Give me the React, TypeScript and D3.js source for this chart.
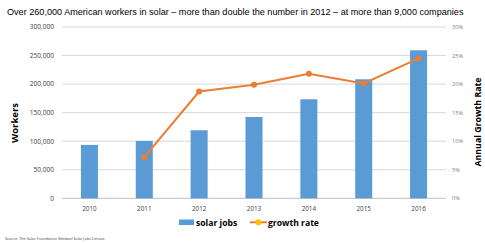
import React from "react";
import * as d3 from "d3";

const years = ["2010", "2011", "2012", "2013", "2014", "2015", "2016"];
const solarJobs = [93500, 100500, 119100, 142400, 173400, 208400, 259200];
const growthRate = [null, 7.2, 18.7, 19.9, 21.8, 20.1, 24.5];
const leftTicks = [0, 50000, 100000, 150000, 200000, 250000, 300000];
const rightTicks = [0, 5, 10, 15, 20, 25, 30];

const W = 485;
const H = 243;
const FONT = "Open Sans, Liberation Sans, sans-serif";
const BLUE = "#5b9bd5";
const ORANGE = "#ed7d31";

export default function App() {
  const x = d3.scaleBand().domain(years).range([62, 446]).paddingInner(0.69).paddingOuter(0.345);
  const yL = d3.scaleLinear().domain([0, 300000]).range([198.3, 27]);
  const yR = d3.scaleLinear().domain([0, 30]).range([198.3, 27]);
  const fmt = d3.format(",");

  const pts = years
    .map((yr, i) => ({ yr, v: growthRate[i] }))
    .filter((d) => d.v !== null) as { yr: string; v: number }[];
  const line = d3
    .line<{ yr: string; v: number }>()
    .x((d) => (x(d.yr) as number) + x.bandwidth() / 2)
    .y((d) => yR(d.v));

  return (
    <svg width={W} height={H} style={{ position: "absolute", left: 0, top: 0 }} fontFamily={FONT}>
      <rect width={W} height={H} fill="#fff" />
      <text x={7} y={15} fontSize={9.1} fill="#000" fontFamily="Liberation Sans Narrow, Liberation Sans, sans-serif">
        Over 260,000 American workers in solar – more than double the number in 2012 – at more than 9,000 companies
      </text>

      {leftTicks.map((t) => (
        <g key={t}>
          <line x1={62} x2={446} y1={yL(t)} y2={yL(t)} stroke={t === 0 ? "#bfbfbf" : "#d9d9d9"} strokeWidth={1} />
          <text x={54} y={yL(t)} dy="0.35em" fontSize={6.6} textAnchor="end" fill="#404040">
            {fmt(t)}
          </text>
        </g>
      ))}
      {rightTicks.map((t) => (
        <text key={t} x={452} y={yR(t)} dy="0.35em" fontSize={5.6} fill="#7f7f7f">
          {t}%
        </text>
      ))}

      <text transform="translate(18,123) rotate(-90)" textAnchor="middle" fontSize={9.5} fontWeight="bold" fill="#000">
        Workers
      </text>
      <text transform="translate(481,122) rotate(-90)" textAnchor="middle" fontSize={8.8} fontWeight="bold" fill="#000">
        Annual Growth Rate
      </text>

      {years.map((yr, i) => (
        <rect
          key={yr}
          x={x(yr)}
          y={yL(solarJobs[i])}
          width={x.bandwidth()}
          height={yL(0) - yL(solarJobs[i])}
          fill={BLUE}
        />
      ))}

      <path d={line(pts) || ""} fill="none" stroke={ORANGE} strokeWidth={2} />
      {pts.map((d) => (
        <circle key={d.yr} cx={(x(d.yr) as number) + x.bandwidth() / 2} cy={yR(d.v)} r={3} fill={ORANGE} />
      ))}

      {years.map((yr) => (
        <text key={yr} x={(x(yr) as number) + x.bandwidth() / 2} y={211} textAnchor="middle" fontSize={6.3} fill="#404040">
          {yr}
        </text>
      ))}

      <rect x={179} y={219.5} width={15} height={5.5} fill={BLUE} />
      <text x={196} y={225.5} fontSize={8.6} fontWeight="bold" fill="#000">
        solar jobs
      </text>
      <line x1={250} x2={267} y1={222.3} y2={222.3} stroke={ORANGE} strokeWidth={2} />
      <circle cx={258.5} cy={222.3} r={3} fill="#ffc000" />
      <text x={268} y={225.5} fontSize={8.6} fontWeight="bold" fill="#000">
        growth rate
      </text>

      <text x={5} y={240} fontSize={3.8} fill="#404040">
        Source: The Solar Foundation <tspan fontStyle="italic">National</tspan> Solar Jobs Census
      </text>
    </svg>
  );
}
